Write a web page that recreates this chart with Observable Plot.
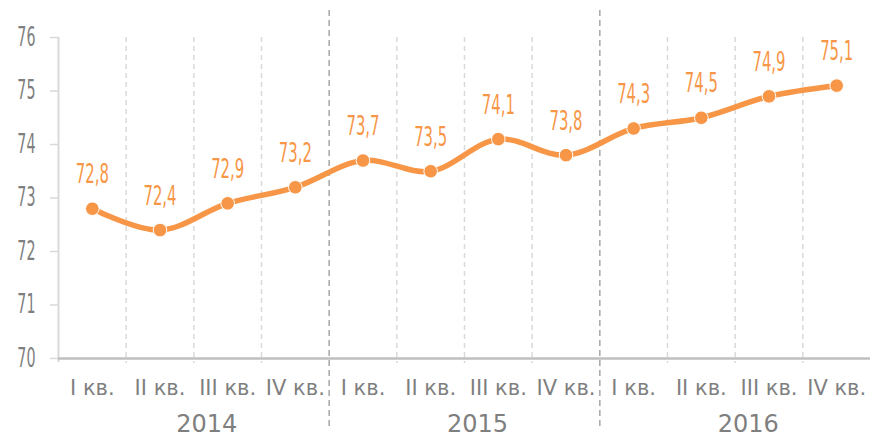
<!DOCTYPE html>
<html>
<head>
<meta charset="utf-8">
<script src="https://cdn.jsdelivr.net/npm/d3@7"></script>
<script src="https://cdn.jsdelivr.net/npm/@observablehq/plot@0.6"></script>
<style>
  html, body { margin: 0; padding: 0; background: #fff; }
  svg { display: block; }
</style>
</head>
<body>
<div id="chart"></div>
<script>
const quarters = ["I кв.", "II кв.", "III кв.", "IV кв.", "I кв.", "II кв.", "III кв.", "IV кв.", "I кв.", "II кв.", "III кв.", "IV кв."];
const years = ["2014", "2015", "2016"];
const values = [72.8, 72.4, 72.9, 73.2, 73.7, 73.5, 74.1, 73.8, 74.3, 74.5, 74.9, 75.1];
const yTicks = [70, 71, 72, 73, 74, 75, 76];

const data = values.map((v, i) => ({i: i + 0.5, v, q: quarters[i], label: String(v).replace(".", ",")}));
const yearData = years.map((y, k) => ({x: k * 4 + 2, y}));
const gridX = d3.range(1, 13).filter(k => k % 4 !== 0);
const sepX = [4, 8];

const narrow = "'DejaVu Sans', sans-serif";
const orange = "#F79646";

const chart = Plot.plot({
  width: 870,
  height: 438,
  marginLeft: 58,
  marginRight: 0,
  marginTop: 37,
  marginBottom: 80,
  x: {type: "linear", domain: [0, 12], axis: null},
  y: {type: "linear", domain: [70, 76], axis: null},
  style: {background: "#fff", overflow: "visible"},
  marks: [
    Plot.ruleX(gridX, {x: d => d, y1: 76, y2: 70, stroke: "#d9d9d9", strokeWidth: 1.5, strokeDasharray: "5,4", insetBottom: -5}),
    Plot.ruleX(sepX, {x: d => d, stroke: "#a6a6a6", strokeWidth: 1.5, strokeDasharray: "6,4", insetTop: -27, insetBottom: -72}),
    Plot.ruleX([0], {x: d => d, y1: 76, y2: 70, stroke: "#d9d9d9", strokeWidth: 2, insetBottom: -4}),
    Plot.ruleY(yTicks, {y: d => d, x1: 0, x2: 0, stroke: "#d9d9d9", strokeWidth: 1.5, insetLeft: -8}),
    Plot.ruleY([70], {y: d => d, x1: 0, x2: 12, stroke: "#bfbfbf", strokeWidth: 2.5}),
    Plot.text(yTicks, {x: 0, y: d => d, text: d => String(d), textAnchor: "end", dx: -23, fill: "#7f7f7f", fontSize: 26, fontFamily: narrow, className: "narrow"}),
    Plot.text(data, {x: "i", y: 70, text: "q", dy: 30, fill: "#7f7f7f", fontSize: 21, fontFamily: "Tahoma, 'DejaVu Sans', Verdana, sans-serif"}),
    Plot.text(yearData, {x: "x", y: 70, text: "y", dx: 13, dy: 66, fill: "#7f7f7f", fontSize: 24, fontFamily: "'DejaVu Sans', Verdana, sans-serif"}),
    Plot.line(data, {x: "i", y: "v", stroke: orange, strokeWidth: 5.5, curve: "catmull-rom"}),
    Plot.dot(data, {x: "i", y: "v", fill: orange, r: 6.8, stroke: "#fff", strokeWidth: 1}),
    Plot.text(data, {x: "i", y: "v", text: "label", dy: -34, fill: orange, fontSize: 27, fontFamily: narrow, className: "narrow"})
  ]
});
d3.select(chart).selectAll(".narrow text").each(function() {
  const t = this.getAttribute("transform") || "";
  this.setAttribute("transform", (t + " scale(0.55,1)").trim());
});
document.getElementById("chart").appendChild(chart);
</script>
</body>
</html>
